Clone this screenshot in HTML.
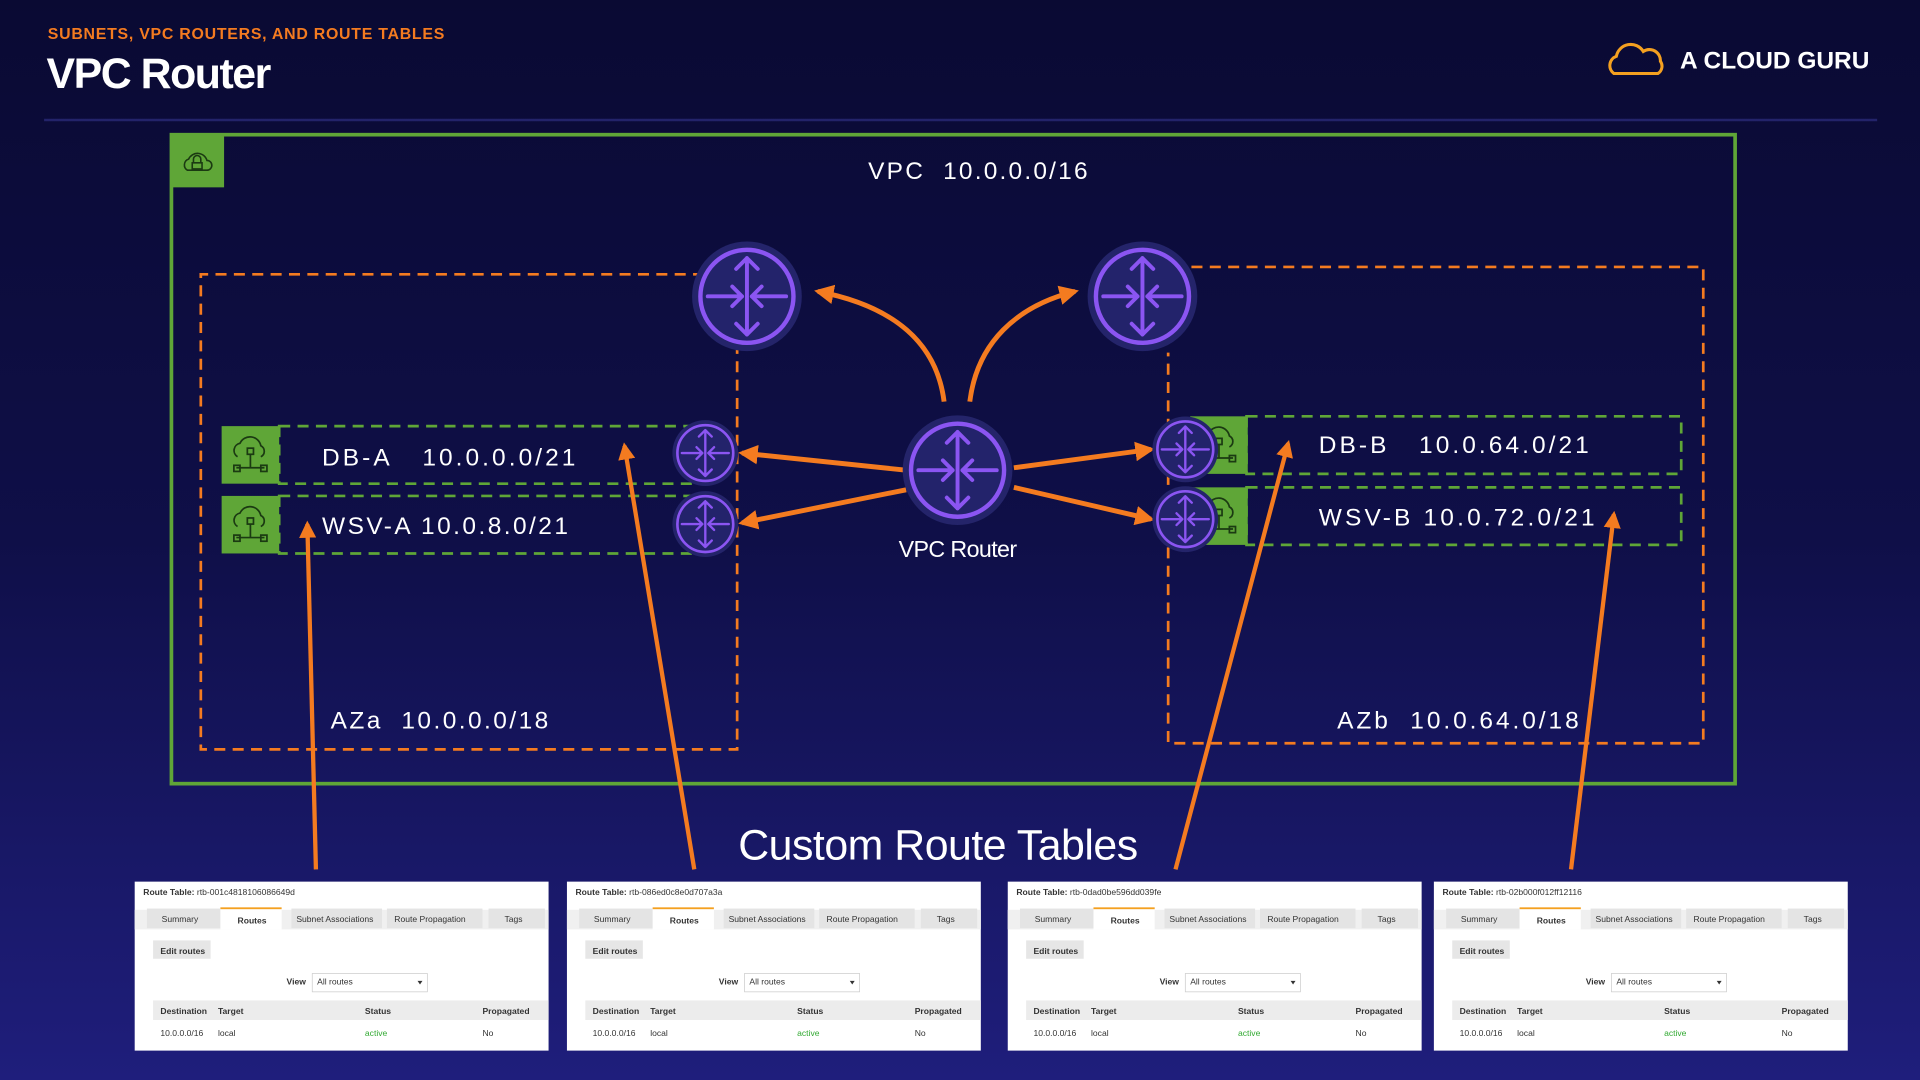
<!DOCTYPE html>
<html><head><meta charset="utf-8"><style>
html,body{margin:0;padding:0;width:1920px;height:1080px;overflow:hidden;background:#0b0b35}
svg{display:block}
text{font-family:"Liberation Sans",sans-serif}
</style></head><body>
<svg width="1920" height="1080" viewBox="0 0 1568 882" xmlns="http://www.w3.org/2000/svg">
<defs>
<linearGradient id="bg" x1="0" y1="0" x2="0" y2="1">
<stop offset="0" stop-color="#0a0a33"/><stop offset="0.5" stop-color="#0f0f48"/><stop offset="1" stop-color="#1f1e7c"/>
</linearGradient>
<marker id="ah" viewBox="0 0 10 10" refX="8" refY="5" markerWidth="4" markerHeight="4" orient="auto"><path d="M0,0 L10,5 L0,10 z" fill="#f47b20"/></marker>
<g id="rt">
<circle r="1.12" fill="#24246a"/>
<circle r="0.95" fill="#23236b" stroke="#8b55f2" stroke-width="0.09"/>
<g stroke="#8b55f2" stroke-width="0.08" fill="none" stroke-linecap="round" stroke-linejoin="round">
<path d="M0,-0.78 V0.78 M-0.22,-0.56 L0,-0.78 L0.22,-0.56 M-0.22,0.56 L0,0.78 L0.22,0.56"/>
<path d="M-0.8,0 H-0.1 M-0.3,-0.2 L-0.1,0 L-0.3,0.2 M0.8,0 H0.1 M0.3,-0.2 L0.1,0 L0.3,0.2"/>
</g>
</g>
<g id="sn">
<rect x="0" y="0" width="47" height="47" fill="#5fa637"/>
<g stroke="#1b3a12" stroke-width="1.4" fill="none">
<path d="M13,25 a6,6 0 0 1 2,-11 a9,9 0 0 1 17,2 a5,5 0 0 1 0,9"/>
<rect x="21" y="18" width="5" height="5"/><path d="M23.5,23 V34 M12,34 H35"/>
<rect x="10" y="32" width="5" height="5"/><rect x="32" y="32" width="5" height="5"/>
</g>
</g>
</defs>
<rect width="1568" height="882" fill="url(#bg)"/>
<text x="39" y="32" fill="#f47b20" font-size="13" font-weight="bold" letter-spacing="0.6">SUBNETS, VPC ROUTERS, AND ROUTE TABLES</text>
<text x="38" y="72" fill="#fff" font-size="35" font-weight="bold" letter-spacing="-1.2">VPC Router</text>
<g transform="translate(1312,34)" stroke="#f4a020" stroke-width="2.5" fill="none"><path d="M6,26 a8,8 0 0 1 2,-14 a12,12 0 0 1 22,-4 a9,9 0 0 1 14,8 a7,7 0 0 1 -2,10 z"/></g>
<text x="1372" y="56" fill="#fff" font-size="20" font-weight="bold">A CLOUD GURU</text>
<line x1="36" y1="98" x2="1533" y2="98" stroke="#23236a" stroke-width="2"/>

<rect x="140" y="110" width="1277" height="530" fill="none" stroke="#5fa637" stroke-width="3"/>
<rect x="140" y="110" width="43" height="43" fill="#5fa637"/>
<path d="M153,139 a5,5 0 0 1 1,-9 a8,8 0 0 1 15,1 a4,4 0 0 1 0,8 z M158,133 v-3 a3,3 0 0 1 6,0 v3 M157,133 h8 v5 h-8 z" stroke="#1b3a12" stroke-width="1.3" fill="none"/>
<text x="709" y="146" fill="#fff" font-size="20" letter-spacing="1.8">VPC&#160;&#160;10.0.0.0/16</text>

<g fill="none" stroke="#f47b20" stroke-width="2.2" stroke-dasharray="9,6">
<path d="M575,224 H164 V612 H602 V282"/>
<path d="M973,218 H1391 V607 H954 V288"/>
</g>
<g fill="none" stroke="#5fa637" stroke-width="2.2" stroke-dasharray="9,6">
<rect x="228" y="348" width="340" height="47"/>
<rect x="228" y="405" width="340" height="47"/>
<rect x="1018" y="340" width="355" height="47"/>
<rect x="1018" y="398" width="355" height="47"/>
</g>
<use href="#sn" x="181" y="348"/>
<use href="#sn" x="181" y="405"/>
<use href="#sn" x="972" y="340"/>
<use href="#sn" x="972" y="398"/>
<text x="263" y="380" fill="#fff" font-size="20" letter-spacing="2.5">DB-A&#160;&#160;&#160;10.0.0.0/21</text>
<text x="263" y="436" fill="#fff" font-size="20" letter-spacing="2">WSV-A 10.0.8.0/21</text>
<text x="1077" y="370" fill="#fff" font-size="20" letter-spacing="2.5">DB-B&#160;&#160;&#160;10.0.64.0/21</text>
<text x="1077" y="429" fill="#fff" font-size="20" letter-spacing="2.6">WSV-B 10.0.72.0/21</text>
<text x="270" y="595" fill="#fff" font-size="20" letter-spacing="2">AZa&#160;&#160;10.0.0.0/18</text>
<text x="1092" y="595" fill="#fff" font-size="20" letter-spacing="2.4">AZb&#160;&#160;10.0.64.0/18</text>

<g stroke="#f47b20" stroke-width="4" fill="none" marker-end="url(#ah)">
<path d="M771,328 C765,280 730,250 668,238"/>
<path d="M792,328 C798,280 830,250 878,238"/>
<path d="M740,384 L606,370"/>
<path d="M740,400 L606,427"/>
<path d="M828,382 L940,367"/>
<path d="M828,398 L940,424"/>
</g>
<g stroke="#f47b20" stroke-width="3.5" fill="none" marker-end="url(#ah)">
<path d="M258,710 L251,428"/>
<path d="M567,710 L510,364"/>
<path d="M960,710 L1052,362"/>
<path d="M1283,710 L1318,420"/>
</g>

<use href="#rt" transform="translate(610,242) scale(40)"/>
<use href="#rt" transform="translate(933,242) scale(40)"/>
<use href="#rt" transform="translate(782,384) scale(40)"/>
<use href="#rt" transform="translate(576,370) scale(24)"/>
<use href="#rt" transform="translate(576,428) scale(24)"/>
<use href="#rt" transform="translate(968,367) scale(24)"/>
<use href="#rt" transform="translate(968,424) scale(24)"/>
<text x="782" y="455" fill="#fff" font-size="19" text-anchor="middle" letter-spacing="-0.5">VPC Router</text>
<text x="766" y="702" fill="#fff" font-size="35" text-anchor="middle" letter-spacing="-0.4">Custom Route Tables</text>

<g font-size="7" fill="#333">
<g transform="translate(110,720)">
<rect width="338" height="138" fill="#fff"/>
<text x="7" y="11"><tspan font-weight="bold">Route Table:</tspan> rtb-001c4818106086649d</text>
<rect x="0" y="23" width="338" height="16" fill="#f0f0f0"/>
<rect x="10" y="22" width="60" height="16" fill="#e4e4e4"/><text x="22" y="33">Summary</text>
<rect x="70" y="21" width="50" height="18" fill="#fff"/><rect x="70" y="21" width="50" height="1.5" fill="#f4a020"/><text x="84" y="34" font-weight="bold">Routes</text>
<rect x="128" y="22" width="74" height="16" fill="#e4e4e4"/><text x="132" y="33">Subnet Associations</text>
<rect x="206" y="22" width="78" height="16" fill="#e4e4e4"/><text x="212" y="33">Route Propagation</text>
<rect x="289" y="22" width="46" height="16" fill="#e4e4e4"/><text x="302" y="33">Tags</text>
<rect x="15" y="48" width="47" height="15" fill="#e6e6e6"/><text x="21" y="59" font-weight="bold">Edit routes</text>
<text x="124" y="84" font-weight="bold">View</text>
<rect x="145" y="75" width="94" height="15" fill="#fff" stroke="#ccc" stroke-width="0.6"/><text x="149" y="84">All routes</text><path d="M231,81 h4 l-2,3 z" fill="#333"/>
<rect x="15" y="97" width="323" height="16" fill="#ececec"/>
<text x="21" y="108" font-weight="bold">Destination</text><text x="68" y="108" font-weight="bold">Target</text><text x="188" y="108" font-weight="bold">Status</text><text x="284" y="108" font-weight="bold">Propagated</text>
<text x="21" y="126">10.0.0.0/16</text><text x="68" y="126">local</text><text x="188" y="126" fill="#3a3">active</text><text x="284" y="126">No</text>
</g>
<g transform="translate(463,720)">
<rect width="338" height="138" fill="#fff"/>
<text x="7" y="11"><tspan font-weight="bold">Route Table:</tspan> rtb-086ed0c8e0d707a3a</text>
<rect x="0" y="23" width="338" height="16" fill="#f0f0f0"/>
<rect x="10" y="22" width="60" height="16" fill="#e4e4e4"/><text x="22" y="33">Summary</text>
<rect x="70" y="21" width="50" height="18" fill="#fff"/><rect x="70" y="21" width="50" height="1.5" fill="#f4a020"/><text x="84" y="34" font-weight="bold">Routes</text>
<rect x="128" y="22" width="74" height="16" fill="#e4e4e4"/><text x="132" y="33">Subnet Associations</text>
<rect x="206" y="22" width="78" height="16" fill="#e4e4e4"/><text x="212" y="33">Route Propagation</text>
<rect x="289" y="22" width="46" height="16" fill="#e4e4e4"/><text x="302" y="33">Tags</text>
<rect x="15" y="48" width="47" height="15" fill="#e6e6e6"/><text x="21" y="59" font-weight="bold">Edit routes</text>
<text x="124" y="84" font-weight="bold">View</text>
<rect x="145" y="75" width="94" height="15" fill="#fff" stroke="#ccc" stroke-width="0.6"/><text x="149" y="84">All routes</text><path d="M231,81 h4 l-2,3 z" fill="#333"/>
<rect x="15" y="97" width="323" height="16" fill="#ececec"/>
<text x="21" y="108" font-weight="bold">Destination</text><text x="68" y="108" font-weight="bold">Target</text><text x="188" y="108" font-weight="bold">Status</text><text x="284" y="108" font-weight="bold">Propagated</text>
<text x="21" y="126">10.0.0.0/16</text><text x="68" y="126">local</text><text x="188" y="126" fill="#3a3">active</text><text x="284" y="126">No</text>
</g>
<g transform="translate(823,720)">
<rect width="338" height="138" fill="#fff"/>
<text x="7" y="11"><tspan font-weight="bold">Route Table:</tspan> rtb-0dad0be596dd039fe</text>
<rect x="0" y="23" width="338" height="16" fill="#f0f0f0"/>
<rect x="10" y="22" width="60" height="16" fill="#e4e4e4"/><text x="22" y="33">Summary</text>
<rect x="70" y="21" width="50" height="18" fill="#fff"/><rect x="70" y="21" width="50" height="1.5" fill="#f4a020"/><text x="84" y="34" font-weight="bold">Routes</text>
<rect x="128" y="22" width="74" height="16" fill="#e4e4e4"/><text x="132" y="33">Subnet Associations</text>
<rect x="206" y="22" width="78" height="16" fill="#e4e4e4"/><text x="212" y="33">Route Propagation</text>
<rect x="289" y="22" width="46" height="16" fill="#e4e4e4"/><text x="302" y="33">Tags</text>
<rect x="15" y="48" width="47" height="15" fill="#e6e6e6"/><text x="21" y="59" font-weight="bold">Edit routes</text>
<text x="124" y="84" font-weight="bold">View</text>
<rect x="145" y="75" width="94" height="15" fill="#fff" stroke="#ccc" stroke-width="0.6"/><text x="149" y="84">All routes</text><path d="M231,81 h4 l-2,3 z" fill="#333"/>
<rect x="15" y="97" width="323" height="16" fill="#ececec"/>
<text x="21" y="108" font-weight="bold">Destination</text><text x="68" y="108" font-weight="bold">Target</text><text x="188" y="108" font-weight="bold">Status</text><text x="284" y="108" font-weight="bold">Propagated</text>
<text x="21" y="126">10.0.0.0/16</text><text x="68" y="126">local</text><text x="188" y="126" fill="#3a3">active</text><text x="284" y="126">No</text>
</g>
<g transform="translate(1171,720)">
<rect width="338" height="138" fill="#fff"/>
<text x="7" y="11"><tspan font-weight="bold">Route Table:</tspan> rtb-02b000f012ff12116</text>
<rect x="0" y="23" width="338" height="16" fill="#f0f0f0"/>
<rect x="10" y="22" width="60" height="16" fill="#e4e4e4"/><text x="22" y="33">Summary</text>
<rect x="70" y="21" width="50" height="18" fill="#fff"/><rect x="70" y="21" width="50" height="1.5" fill="#f4a020"/><text x="84" y="34" font-weight="bold">Routes</text>
<rect x="128" y="22" width="74" height="16" fill="#e4e4e4"/><text x="132" y="33">Subnet Associations</text>
<rect x="206" y="22" width="78" height="16" fill="#e4e4e4"/><text x="212" y="33">Route Propagation</text>
<rect x="289" y="22" width="46" height="16" fill="#e4e4e4"/><text x="302" y="33">Tags</text>
<rect x="15" y="48" width="47" height="15" fill="#e6e6e6"/><text x="21" y="59" font-weight="bold">Edit routes</text>
<text x="124" y="84" font-weight="bold">View</text>
<rect x="145" y="75" width="94" height="15" fill="#fff" stroke="#ccc" stroke-width="0.6"/><text x="149" y="84">All routes</text><path d="M231,81 h4 l-2,3 z" fill="#333"/>
<rect x="15" y="97" width="323" height="16" fill="#ececec"/>
<text x="21" y="108" font-weight="bold">Destination</text><text x="68" y="108" font-weight="bold">Target</text><text x="188" y="108" font-weight="bold">Status</text><text x="284" y="108" font-weight="bold">Propagated</text>
<text x="21" y="126">10.0.0.0/16</text><text x="68" y="126">local</text><text x="188" y="126" fill="#3a3">active</text><text x="284" y="126">No</text>
</g>
</g>
</svg>
</body></html>
